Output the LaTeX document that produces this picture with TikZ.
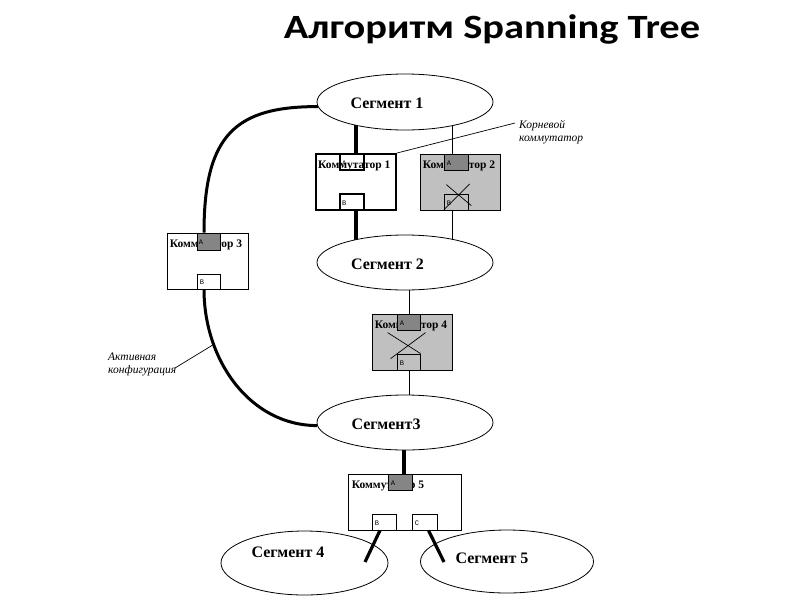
\documentclass[tikz,border=0pt]{standalone}
\usepackage{fontspec}
\setmainfont{Liberation Serif}
\newfontfamily\titlefont{Carlito}
\newfontfamily\portfont{Liberation Mono}
\usetikzlibrary{shapes.geometric,calc}
\pgfdeclarelayer{bg}
\pgfsetlayers{bg,main}
\definecolor{swgrey}{HTML}{C0C0C0}
\definecolor{portgrey}{HTML}{858585}
\tikzset{
  seg/.style={ellipse, draw, line width=0.8pt, fill=white, inner sep=0pt},
  segtext/.style={font=\bfseries\fontsize{16}{19}\selectfont, inner sep=0pt},
  sw/.style={rectangle, draw, line width=0.8pt, inner sep=0pt, minimum width=80pt, minimum height=56pt},
  swlabel/.style={font=\bfseries\fontsize{11.5}{13}\selectfont, inner sep=0pt, anchor=base west},
  port/.style={rectangle, draw, line width=0.8pt, inner sep=0pt, minimum width=24pt, minimum height=16pt},
  portlabel/.style={font=\portfont\fontsize{7}{8}\selectfont, inner sep=0pt, anchor=west},
  thickline/.style={line width=3.2pt},
  thinline/.style={line width=0.9pt},
  crossline/.style={line width=0.7pt},
  note/.style={font=\itshape\fontsize{11.5}{12.8}\selectfont, inner sep=0pt, anchor=north west, align=left},
  noteline/.style={line width=0.7pt}
}
\begin{document}
\begin{tikzpicture}[x=1pt,y=-1pt]
\useasboundingbox (0,0) rectangle (800,600);

% title
\node[font=\titlefont\bfseries\fontsize{34}{38}\selectfont, anchor=base, inner sep=0pt] (title) at (492,38.5) {\scalebox{1.19}[1]{Алгоритм Spanning Tree}};

% segments
\node[seg, minimum width=176pt, minimum height=56pt] (seg1) at (405,102) {};
\node[segtext] (seg1t) at ($(seg1.center)+(-18,1)$) {Сегмент 1};
\node[seg, minimum width=176pt, minimum height=55pt] (seg2) at (405,262.5) {};
\node[segtext] (seg2t) at ($(seg2.center)+(-17.5,1.5)$) {Сегмент 2};
\node[seg, minimum width=176pt, minimum height=55pt] (seg3) at (405,422.5) {};
\node[segtext] (seg3t) at ($(seg3.center)+(-19,1.5)$) {Сегмент3};
\node[seg, minimum width=167pt, minimum height=64pt] (seg4) at (304.5,563) {};
\node[segtext] (seg4t) at ($(seg4.center)+(-16.5,-11)$) {Сегмент 4};
\node[seg, minimum width=173pt, minimum height=63pt] (seg5) at (507,561.5) {};
\node[segtext] (seg5t) at ($(seg5.center)+(-15,-3.5)$) {Сегмент 5};

% switch 1 (root)
\node[sw, line width=2pt, fill=white] (s1) at (356,182) {};
\node[swlabel] (s1l) at ($(s1.north west)+(3,15)$) {Коммутатор 1};
\node[port, line width=2pt] (s1a) at (352,162) {};
\node[portlabel] (s1al) at ($(s1a.west)+(3,1)$) {A};
\node[port, line width=2pt, fill=white] (s1b) at (352,202) {};
\node[portlabel] (s1bl) at ($(s1b.west)+(3,1)$) {B};

% switch 2 (blocked)
\node[sw, fill=swgrey] (s2) at (460,182) {};
\node[swlabel] (s2l) at ($(s2.north west)+(3,15)$) {Коммутатор 2};
\node[port, fill=portgrey] (s2a) at (456,162) {};
\node[portlabel] (s2al) at ($(s2a.west)+(3,1)$) {A};
\node[port] (s2b) at (456,202) {};
\node[portlabel] (s2bl) at ($(s2b.west)+(3,1)$) {B};
\draw[crossline] ($(s2b.north west)+(2.7,-9)$) -- ($(s2b.north west)+(27.7,12)$);
\draw[crossline] ($(s2b.north west)+(26,-9.7)$) -- ($(s2b.north west)+(0.3,16)$);

% switch 3
\node[sw, fill=white, minimum width=81pt] (s3) at (207.5,261) {};
\node[swlabel] (s3l) at ($(s3.north west)+(3,15)$) {Коммутатор 3};
\node[port, fill=portgrey, minimum width=23pt, minimum height=17pt] (s3a) at (208.5,241.5) {};
\node[portlabel] (s3al) at ($(s3a.west)+(2,1)$) {A};
\node[port, fill=white, minimum width=23pt, minimum height=15pt] (s3b) at (208.5,281.5) {};
\node[portlabel] (s3bl) at ($(s3b.west)+(3,1)$) {B};

% switch 4 (blocked)
\node[sw, fill=swgrey] (s4) at (412,342) {};
\node[swlabel] (s4l) at ($(s4.north west)+(3,15)$) {Коммутатор 4};
\node[port, fill=portgrey, minimum width=23pt] (s4a) at (408.5,322) {};
\node[portlabel] (s4al) at ($(s4a.west)+(3,1)$) {A};
\node[port, minimum width=23pt] (s4b) at (408.5,362) {};
\node[portlabel] (s4bl) at ($(s4b.west)+(3,1)$) {B};
\draw[crossline] ($(s4b.north west)+(-9,-21)$) -- ($(s4b.north west)+(24,0)$);
\draw[crossline] ($(s4b.north west)+(29,-21)$) -- ($(s4b.north west)+(-6,5)$);

% switch 5
\node[sw, fill=white, minimum width=113pt] (s5) at (404.5,502) {};
\node[swlabel] (s5l) at ($(s5.north west)+(4,15)$) {Коммутатор 5};
\node[port, fill=portgrey] (s5a) at (400,482) {};
\node[portlabel] (s5al) at ($(s5a.west)+(3,1)$) {A};
\node[port, fill=white] (s5b) at (384,522) {};
\node[portlabel] (s5bl) at ($(s5b.west)+(3,1)$) {B};
\node[port, fill=white, minimum width=25pt] (s5c) at (424.5,522) {};
\node[portlabel] (s5cl) at ($(s5c.west)+(3,1)$) {C};

% annotations
\node[note] (roottxt) at (519,120.5) {Корневой\\коммутатор};
\coordinate (rootend) at ($(roottxt.north west)+(-4,2.5)$);
\draw[noteline] (s1.north east) -- (rootend);
\node[note] (aktxt) at (108,353) {Активная\\конфигурация};
\coordinate (akend) at ($(aktxt.north west)+(67,15)$);

% free ends of the links to segments 4 and 5
\coordinate (s4end) at ($(seg4.center)+(60.5,-1)$);
\coordinate (s5end) at ($(seg5.center)+(-63,0.5)$);
\draw[thickline] ([xshift=-4pt]s5b.south) -- (s4end);
\draw[thickline] ([xshift=4pt]s5c.south) -- (s5end);

\begin{pgfonlayer}{bg}
  \fill[white] (0,0) rectangle (800,600);
  \draw[thickline] ([xshift=4pt]s1a.north) -- ([xshift=4pt]s1a.north |- seg1.center);
  \draw[thickline] ([xshift=4pt]s1b.south) -- ([xshift=4pt]s1b.south |- seg2.center);
  \draw[thinline] ([xshift=-4pt]s2a.north) -- ([xshift=-4pt]s2a.north |- seg1.center);
  \draw[thinline] ([xshift=-4pt]s2b.south) -- ([xshift=-4pt]s2b.south |- seg2.center);
  \draw[thinline] ([xshift=0.5pt]s4a.north) -- ([xshift=0.5pt]s4a.north |- seg2.center);
  \draw[thinline] ([xshift=0.5pt]s4b.south) -- ([xshift=0.5pt]s4b.south |- seg3.center);
  \draw[thickline] ([xshift=4pt]s5a.north) -- ([xshift=4pt]s5a.north |- seg3.center);
  \draw[thickline, line width=3pt] (seg1.183) .. controls +(-82,0) and +(0,-98) .. ([xshift=-4.5pt]s3a.north);
  \draw[thickline, line width=3pt] ([xshift=-4.5pt]s3b.south) .. controls +(0,71) and +(-67,0) .. coordinate[pos=0.27] (ak) (seg3.182);
\end{pgfonlayer}
\draw[noteline] (ak) -- (akend);
\end{tikzpicture}
\end{document}
